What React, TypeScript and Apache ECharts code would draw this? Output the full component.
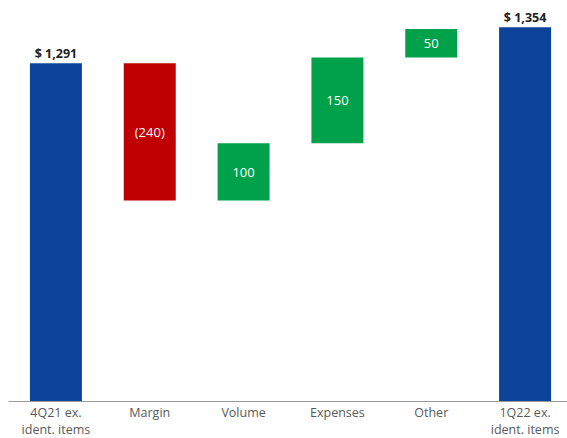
import React, { useEffect, useRef } from "react";
import * as echarts from "echarts";

const categories = ["4Q21 ex.\nident. items", "Margin", "Volume", "Expenses", "Other", "1Q22 ex.\nident. items"];
const startTotal = 1291;
const endTotal = 1354;
const deltas = [-240, 100, 150, 50];
const yMin = 700;
const yMax = 1400;

const BLUE = "#0C4398";
const RED = "#C00000";
const GREEN = "#00A14B";

function fmtTotal(v: number) {
  return "$ " + v.toLocaleString("en-US");
}
function fmtDelta(v: number) {
  return v < 0 ? "(" + Math.abs(v) + ")" : String(v);
}

export default function App() {
  const ref = useRef<HTMLDivElement>(null);
  useEffect(() => {
    if (!ref.current) return;
    const chart = echarts.init(ref.current, null, { renderer: "svg" });

    const base: number[] = [0];
    const heights: any[] = [];
    const totalLabel = (v: number) => ({ position: "top", color: "#222", fontWeight: "bold", fontSize: 12.5, distance: 3, formatter: fmtTotal(v) });
    heights.push({ value: startTotal, itemStyle: { color: BLUE }, label: totalLabel(startTotal) });
    let running = startTotal;
    deltas.forEach((d) => {
      if (d < 0) {
        base.push(running + d);
        heights.push({ value: -d, itemStyle: { color: RED }, label: { formatter: fmtDelta(d) } });
      } else {
        base.push(running);
        heights.push({ value: d, itemStyle: { color: GREEN }, label: { formatter: fmtDelta(d) } });
      }
      running += d;
    });
    base.push(0);
    heights.push({ value: endTotal, itemStyle: { color: BLUE }, label: totalLabel(endTotal) });

    chart.setOption({
      animation: false,
      grid: { left: 9, width: 563, top: 1, height: 400, containLabel: false, outerBoundsMode: "none" },
      xAxis: {
        type: "category",
        data: categories,
        axisLine: { lineStyle: { color: "#9a9a9a", width: 1 } },
        axisTick: { show: false },
        axisLabel: { color: "#595959", fontSize: 12.5, lineHeight: 17, margin: 3, interval: 0, fontFamily: "Open Sans" },
      },
      yAxis: { type: "value", min: yMin, max: yMax, show: false, splitLine: { show: false } },
      series: [
        {
          type: "bar",
          stack: "w",
          data: base,
          barWidth: 52,
          itemStyle: { color: "transparent" },
          silent: true,
        },
        {
          type: "bar",
          stack: "w",
          data: heights,
          barWidth: 52,
          label: { show: true, position: "inside", color: "#fff", fontSize: 13, fontFamily: "Open Sans" },
        },
      ],
      textStyle: { fontFamily: "Open Sans" },
    });
    return () => chart.dispose();
  }, []);
  return <div ref={ref} style={{ position: "absolute", left: 0, top: 0, width: 567, height: 438 }} />;
}
